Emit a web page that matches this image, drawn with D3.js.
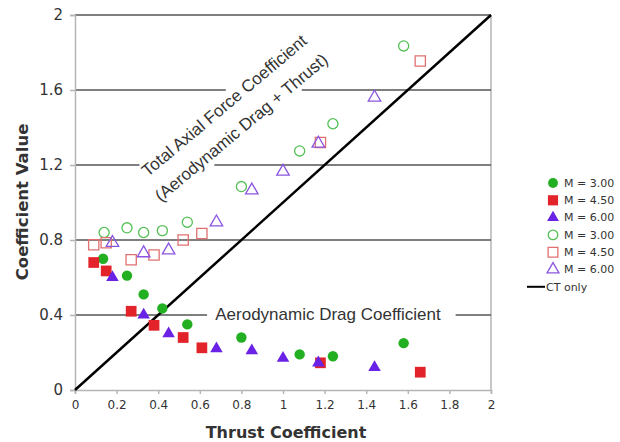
<!DOCTYPE html>
<html>
<head>
<meta charset="utf-8">
<script src="https://cdn.jsdelivr.net/npm/d3@7"></script>
<style>
  body { margin: 0; background: #fff; }
  svg text { fill: #333; }
</style>
</head>
<body>
<div id="vis"></div>
<script>
// Thrust coefficient (x) and coefficient value (y)
var dragM3x = [0.135, 0.25, 0.33, 0.42, 0.54, 0.80, 1.08, 1.24, 1.58];
var dragM3y = [0.70, 0.61, 0.51, 0.435, 0.35, 0.28, 0.19, 0.18, 0.25];
var dragM45x = [0.09, 0.15, 0.27, 0.38, 0.52, 0.61, 1.18, 1.66];
var dragM45y = [0.68, 0.635, 0.42, 0.345, 0.28, 0.225, 0.145, 0.095];
var dragM6x = [0.18, 0.33, 0.45, 0.68, 0.85, 1.0, 1.17, 1.44];
var dragM6y = [0.60, 0.40, 0.30, 0.22, 0.21, 0.17, 0.145, 0.12];

var axialM3x = [0.14, 0.25, 0.33, 0.42, 0.54, 0.80, 1.08, 1.24, 1.58];
var axialM3y = [0.84, 0.865, 0.84, 0.85, 0.895, 1.085, 1.275, 1.42, 1.835];
var axialM45x = [0.09, 0.15, 0.27, 0.38, 0.52, 0.61, 1.18, 1.66];
var axialM45y = [0.775, 0.785, 0.695, 0.72, 0.80, 0.835, 1.32, 1.755];
var axialM6x = [0.18, 0.33, 0.45, 0.68, 0.85, 1.0, 1.17, 1.44];
var axialM6y = [0.785, 0.73, 0.745, 0.895, 1.065, 1.165, 1.315, 1.56];

var xTicks = [0, 0.2, 0.4, 0.6, 0.8, 1, 1.2, 1.4, 1.6, 1.8, 2];
var yTicks = [0, 0.4, 0.8, 1.2, 1.6, 2];
var legendLabels = ["M = 3.00", "M = 4.50", "M = 6.00", "M = 3.00", "M = 4.50", "M = 6.00", "CT only"];

// gridline pieces (broken where the annotation text sits)
var gridY = [0.4, 0.4, 0.8, 1.2, 1.2, 1.6, 1.6, 2];
var gridFrom = [0, 1.83, 0, 0, 0.67, 0, 1.09, 0];
var gridTo = [0.635, 2, 2, 0.31, 2, 0.725, 2, 2];

var width = 620, height = 442;
var plotLeft = 75, plotRight = 491, plotTop = 15, plotBottom = 390;

var svg = d3.select("#vis").append("svg")
    .attr("width", width)
    .attr("height", height);

var x = d3.scaleLinear().domain([0, 2]).range([plotLeft, plotRight]);
var y = d3.scaleLinear().domain([0, 2]).range([plotBottom, plotTop]);

// right frame
svg.append("line")
    .attr("x1", plotRight).attr("x2", plotRight)
    .attr("y1", y(2)).attr("y2", y(0))
    .attr("stroke", "#b5b5b5").attr("stroke-width", 1.5);

// gridlines
svg.append("g").selectAll("line")
    .data(gridY)
    .enter().append("line")
    .attr("x1", (d, i) => x(gridFrom[i]))
    .attr("x2", (d, i) => x(gridTo[i]))
    .attr("y1", d => y(d)).attr("y2", d => y(d))
    .attr("stroke", "#555").attr("stroke-width", 1.5);

// axes
var xAxis = svg.append("g")
    .attr("transform", "translate(0," + plotBottom + ")")
    .call(d3.axisBottom(x).tickValues(xTicks).tickSize(4).tickPadding(6)
        .tickFormat(d3.format("~g")));
xAxis.selectAll("text")
    .attr("font-family", "DejaVu Sans, Verdana, sans-serif")
    .attr("font-size", 12).attr("fill", "#333");

var yAxis = svg.append("g")
    .attr("transform", "translate(" + plotLeft + ",0)")
    .call(d3.axisLeft(y).tickValues(yTicks).tickSize(5).tickPadding(7)
        .tickFormat(d3.format("~g")));
yAxis.selectAll("text")
    .attr("font-family", "DejaVu Sans, Verdana, sans-serif")
    .attr("font-size", 15).attr("fill", "#333");

svg.selectAll(".domain, .tick line")
    .attr("stroke", "#b5b5b5").attr("stroke-width", 1.5);

// CT only diagonal
svg.append("line")
    .attr("x1", x(0)).attr("y1", y(0))
    .attr("x2", x(2)).attr("y2", y(2))
    .attr("stroke", "#000").attr("stroke-width", 2.5);

// markers
var green = "#22b022", red = "#e2242a", blue = "#6a22e6";
var greenOpen = "#55c055", redOpen = "#e07070", blueOpen = "#8a55e0";

var series = [
    {xs: dragM3x, ys: dragM3y, type: d3.symbolCircle, size: 85, fill: green, stroke: "none"},
    {xs: dragM45x, ys: dragM45y, type: d3.symbolSquare, size: 115, fill: red, stroke: "none"},
    {xs: dragM6x, ys: dragM6y, type: d3.symbolTriangle, size: 68, fill: blue, stroke: "none"},
    {xs: axialM3x, ys: axialM3y, type: d3.symbolCircle, size: 80, fill: "none", stroke: greenOpen},
    {xs: axialM45x, ys: axialM45y, type: d3.symbolSquare, size: 105, fill: "none", stroke: redOpen},
    {xs: axialM6x, ys: axialM6y, type: d3.symbolTriangle, size: 68, fill: "none", stroke: blueOpen}
];

series.forEach(function(s) {
    svg.append("g").selectAll("path")
        .data(s.xs)
        .enter().append("path")
        .attr("d", d3.symbol().type(s.type).size(s.size))
        .attr("transform", (d, i) => "translate(" + x(d) + "," + y(s.ys[i]) + ")")
        .attr("fill", s.fill)
        .attr("stroke", s.stroke)
        .attr("stroke-width", 1.3);
});

// annotations
var annot = svg.append("g")
    .attr("font-family", "Liberation Sans, Arial, sans-serif")
    .attr("font-size", 17);

annot.append("text")
    .attr("transform", "translate(228,110) rotate(-40)")
    .attr("text-anchor", "middle")
    .text("Total Axial Force Coefficient");
annot.append("text")
    .attr("transform", "translate(245,132) rotate(-40)")
    .attr("text-anchor", "middle")
    .text("(Aerodynamic Drag + Thrust)");
annot.append("text")
    .attr("x", 328).attr("y", 320)
    .attr("text-anchor", "middle")
    .text("Aerodynamic Drag Coefficient");

// axis titles
svg.append("text")
    .attr("x", 286).attr("y", 438)
    .attr("text-anchor", "middle")
    .attr("font-family", "DejaVu Sans, Verdana, sans-serif")
    .attr("font-weight", "bold").attr("font-size", 16)
    .attr("fill", "#222")
    .text("Thrust Coefficient");
svg.append("text")
    .attr("transform", "translate(28,202) rotate(-90)")
    .attr("text-anchor", "middle")
    .attr("font-family", "DejaVu Sans, Verdana, sans-serif")
    .attr("font-weight", "bold").attr("font-size", 16.5)
    .attr("fill", "#222")
    .text("Coefficient Value");

// legend
var legend = svg.append("g")
    .attr("font-family", "DejaVu Sans, Verdana, sans-serif")
    .attr("font-size", 11);

legend.selectAll("text")
    .data(legendLabels)
    .enter().append("text")
    .attr("x", (d, i) => i < 6 ? 564 : 546)
    .attr("y", (d, i) => 183 + i * 17.3)
    .attr("dy", "0.35em")
    .text(d => d);

legend.selectAll("path")
    .data(series)
    .enter().append("path")
    .attr("d", s => d3.symbol().type(s.type).size(s.size * 0.9)())
    .attr("transform", (s, i) => "translate(553," + (183 + i * 17.3) + ")")
    .attr("fill", s => s.fill)
    .attr("stroke", s => s.stroke)
    .attr("stroke-width", 1.3);

legend.append("line")
    .attr("x1", 527).attr("x2", 545)
    .attr("y1", 183 + 6 * 17.3).attr("y2", 183 + 6 * 17.3)
    .attr("stroke", "#000").attr("stroke-width", 2);
</script>
</body>
</html>
